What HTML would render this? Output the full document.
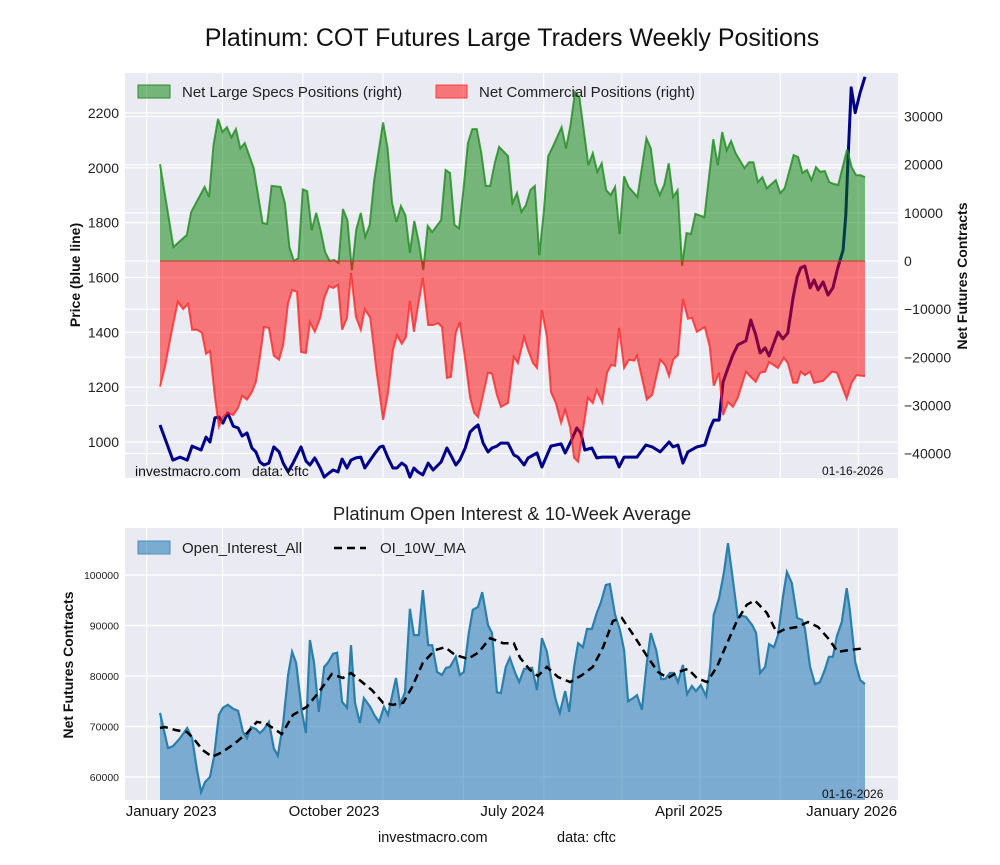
<!DOCTYPE html>
<html><head><meta charset="utf-8"><style>
body{margin:0;background:#fff;font-family:"Liberation Sans",Arial,sans-serif}
svg text{font-family:"Liberation Sans",Arial,sans-serif}
</style></head><body>
<svg id="c" width="1000" height="860" xmlns="http://www.w3.org/2000/svg"></svg>
<script>
const specWeeks=[0,3,6,7,10,11,12,13,14,15,16,17,18,19,21,23,24,25,27,28,29,30,31,32,33,34,35,36,37,38,39,40,41,42,43,44,45,46,47,48,50,51,52,53,54,55,56,57,58,59,60,61,63,64,65,66,67,68,69,70,71,72,73,74,75,76,78,79,80,81,82,83,84,85,86,87,88,90,91,92,93,94,96,97,98,99,100,101,102,103,104,105,107,109,110,111,112,113,114,115,116,117,118,119,120,122,124,125,126,127,128,129,131,132,133,134,135,136,138,139,140,142,143,144,145,146,147,148,149,150,151,152,154,155,156,157,158];
const specVals=[20100,2900,5400,10200,15400,13300,24100,29500,26800,27800,25700,27400,23400,24500,19300,7900,7700,15600,15400,12000,2900,0,600,14900,14500,6400,10000,6400,1900,0,200,-400,10800,8500,-1900,6600,10000,5000,7500,16800,28800,23400,12200,8100,11400,9500,1700,8300,3900,-1900,7300,6000,8500,18900,18300,7500,6800,14700,24500,27400,27400,22400,15600,15600,20300,23700,21800,12000,14100,10200,11600,14700,15600,1200,10000,21800,23700,27800,23400,28200,35100,34000,19900,22400,18500,20300,14700,13700,15400,5600,17600,15400,13300,25500,23400,16200,13700,15800,20300,13300,14700,-1000,5800,5600,9800,9100,25300,19900,26800,23000,24900,22400,19300,20500,20500,16400,17400,15100,16800,14100,15100,22000,21600,18300,18900,16800,19500,18500,18700,16400,16000,15800,23200,19500,17800,17800,17400];
const commWeeks=[0,1.1,2.7,4.0,5.2,6.3,7.2,8.3,9.4,10.3,11.2,12.3,13.2,14.1,15.2,16.4,17.5,18.4,19.5,20.6,21.5,22.4,23.3,24.4,25.5,26.7,27.6,28.7,29.6,30.7,31.6,32.7,33.6,34.7,35.9,36.8,37.9,38.8,39.9,40.8,41.9,42.8,43.9,45.0,45.9,47.1,48.4,50.0,51.1,52.2,53.1,54.2,55.1,56.0,56.9,57.8,58.9,60.1,61.2,62.3,63.2,64.3,65.2,66.3,67.2,68.4,69.5,70.4,71.3,72.4,73.5,74.4,75.5,76.4,78.0,79.3,80.2,81.6,82.5,83.6,84.5,85.6,86.7,87.6,88.7,89.9,90.8,91.9,92.8,93.7,94.8,95.9,97.0,97.9,99.1,100.2,101.1,102.0,102.9,104.0,105.1,106.3,106.9,109.1,110.3,112.1,113.2,114.1,115.0,116.1,117.2,118.3,119.2,120.3,122.1,123.2,124.1,125.3,126.2,127.3,128.4,129.5,131.3,132.4,133.5,134.5,135.6,136.5,138.5,139.8,140.7,141.9,142.8,143.6,144.5,145.7,146.6,148.6,150.6,151.7,153.9,155.0,156.1,158];
const commVals=[-26100,-22000,-14300,-8500,-10000,-8900,-14300,-14300,-14900,-19300,-18700,-28200,-34400,-32400,-31500,-32000,-30500,-28000,-28800,-27200,-25100,-19900,-13700,-13900,-19700,-20500,-17400,-8700,-6000,-6400,-18900,-19100,-12700,-14700,-11800,-7700,-5200,-5600,-5000,-14300,-11800,-2500,-11600,-14300,-10000,-11800,-22000,-33000,-27400,-18500,-15400,-17200,-15800,-8300,-14700,-9500,-3500,-13300,-13300,-12900,-13700,-24300,-24100,-14900,-12700,-20500,-28400,-31500,-32400,-27800,-23200,-23400,-27800,-30300,-29500,-19900,-21200,-15800,-18500,-21200,-22200,-10200,-15800,-27200,-29500,-33600,-30900,-34600,-40900,-41700,-35100,-28400,-29500,-26800,-29300,-23200,-21600,-21800,-13900,-22200,-20500,-20700,-19700,-28800,-27800,-20500,-21600,-23900,-20500,-19500,-7900,-12000,-11800,-14700,-13700,-17800,-25900,-23200,-32000,-29300,-30300,-28400,-23000,-24100,-25100,-23200,-23000,-21000,-22200,-20100,-21200,-25300,-25300,-23000,-23700,-23000,-25300,-24900,-23000,-23200,-28600,-25300,-23700,-23900];
const priceWeeks=[0,2.9,4.5,6.1,7.2,9.2,10.3,11.2,12.3,13.2,14.1,15.2,16.4,17.5,18.4,19.5,20.6,21.5,22.4,23.3,24.4,25.5,26.7,27.6,28.7,29.8,31.6,32.7,33.6,34.7,35.9,36.8,37.9,38.8,39.9,40.8,41.9,42.8,43.9,45.0,45.9,47.1,48.4,49.3,50.0,51.1,52.2,53.1,54.2,55.1,56.0,56.9,57.8,58.9,60.1,61.2,63.0,64.3,65.4,66.3,67.2,68.4,69.5,70.4,71.3,72.4,73.5,74.4,75.5,76.4,78.0,79.3,80.2,81.6,82.5,84.5,85.6,87.6,89.9,90.8,91.9,93.4,94.3,95.2,96.8,97.9,99.1,100.2,102.0,102.9,104.0,106.9,108.9,110.3,112.1,114.1,115.0,116.1,117.2,118.3,120.3,122.1,123.3,124.1,125.3,126.2,127.3,128.4,129.5,131.3,132.4,133.5,134.5,135.6,136.5,138.5,139.6,140.7,141.9,142.8,143.6,144.5,145.7,146.6,147.5,148.6,149.7,150.8,151.9,153.1,153.7,154.2,154.9,155.8,156.9,158];
const priceVals=[1062,934,945,934,985,971,1018,1000,1088,1091,1069,1106,1058,1051,1022,1033,978,964,927,916,923,982,964,923,891,923,982,931,916,942,905,872,887,898,891,938,905,934,942,945,905,934,964,982,985,942,905,905,923,912,872,905,891,880,923,898,927,978,945,916,934,978,1036,1051,1062,996,964,978,985,996,996,953,945,916,942,960,909,985,993,960,996,1051,1033,971,978,942,945,945,945,909,945,945,989,982,964,1000,982,989,923,964,982,989,1051,1080,1080,1219,1270,1318,1354,1369,1445,1391,1325,1343,1314,1401,1376,1398,1529,1602,1635,1642,1562,1591,1555,1584,1536,1562,1635,1700,1828,2029,2292,2201,2274,2332];
const oiWeeks=[0,1.8,2.9,4.5,6.1,7.2,8.3,9.2,10.1,11.2,12.1,13.2,14.1,15.2,16.4,17.5,18.6,19.5,20.4,21.5,22.4,23.3,24.4,25.5,26.4,27.6,28.7,29.6,30.5,31.8,32.7,33.6,34.5,35.6,36.8,37.6,38.8,39.7,40.8,41.9,42.8,43.7,44.8,45.7,47.1,48.0,49.1,50.2,51.1,52.9,53.8,54.9,56.0,56.9,58.0,58.9,60.1,61.0,62.1,63.2,64.1,65.0,66.3,67.2,68.1,69.2,70.1,71.3,72.2,73.5,74.4,75.5,76.4,77.5,78.4,79.6,80.5,81.6,83.4,84.5,85.6,86.7,87.6,88.7,89.6,90.8,91.7,92.8,93.7,94.8,95.7,96.8,97.9,98.8,99.9,100.8,102.0,103.1,104.0,104.9,106.0,106.9,108.0,109.1,110.0,111.2,112.3,113.2,114.3,115.2,116.1,117.2,118.1,119.2,120.1,121.2,122.4,123.3,124.1,125.3,126.4,127.3,128.4,129.5,130.4,131.3,132.7,133.6,134.5,135.6,136.5,137.6,138.5,139.6,140.5,141.6,142.8,143.9,144.5,145.7,146.8,147.9,149.0,149.9,150.8,151.7,152.8,153.9,154.6,155.8,156.9,158];
const oiVals=[72700,65700,66100,67700,69700,67700,61400,57000,59000,60000,64000,72300,73700,74300,73500,73100,68900,67700,69900,69500,68700,69500,70900,65700,64200,70700,80200,84800,82600,72900,68700,87100,82800,72900,81800,82600,84400,84600,74900,73700,86100,74700,70700,75600,73900,72300,70900,73900,72300,79600,74300,76800,93300,88100,88100,97000,86100,86100,80800,80200,81600,81800,83800,80200,80800,88500,93100,93700,96600,90100,88500,76800,76600,81800,83600,80600,78800,81400,81600,77200,87500,84800,79800,75200,72700,77000,72900,81800,86500,85700,89300,89300,92500,94500,98000,98200,92100,89100,85100,75000,75600,76200,73300,82600,88500,85100,79400,79400,80600,80600,78800,82200,76400,78000,77000,78200,76000,81800,92100,95400,100600,106300,99000,91500,91900,91700,90100,88500,80600,81800,86300,85700,88100,95600,100600,98400,91500,91100,89500,81800,78400,78800,81200,83800,83800,87900,90700,97400,93100,82800,79200,78400];
const maWeeks=[0,1.1,3.4,6.1,7.8,9.6,11.7,13.9,16.8,19.5,21.7,23.5,25.3,27.3,29.8,32.9,35.4,38.5,41.0,42.8,45.3,47.5,50.0,52.2,54.5,56.5,58.9,61.6,63.9,66.1,69.0,71.3,74.0,76.9,79.3,80.7,82.9,84.7,86.7,89.2,91.9,94.6,97.0,99.3,101.5,103.5,106.4,109.1,111.6,113.8,116.1,118.3,120.3,122.6,124.8,127.1,129.3,131.5,133.3,136.0,138.3,140.1,142.8,145.2,147.5,149.7,151.9,154.2,158];
const maVals=[69700,69900,69300,68900,67300,65300,64000,64900,66700,68700,70900,70700,69700,68500,72300,73900,76600,80400,79600,80600,78800,77200,74700,74300,74700,77800,82600,85100,85700,84200,83400,84600,87500,86500,86500,83600,81200,80000,81800,79800,78800,80200,81800,85700,90900,91500,87700,84000,80800,79600,80800,81400,79600,78800,81800,86500,90900,94100,95000,92500,88500,89300,89700,90700,89700,87500,84800,85100,85500];
const priceTicks=[1000,1200,1400,1600,1800,2000,2200];
const netTicks=[-40000,-30000,-20000,-10000,0,10000,20000,30000];
const oiTicks=[60000,70000,80000,90000,100000];
const xLabels=["January 2023","October 2023","July 2024","April 2025","January 2026"];
const xLabelWeeks=[2.5,39,79,118.5,155];
const xGridWeeks=[-3,14,32,50,68,86,103.5,121,139,156.5];

const NS="http://www.w3.org/2000/svg";
const svg=document.getElementById('c');
function el(tag,attrs,parent){const e=document.createElementNS(NS,tag);for(const k in attrs)e.setAttribute(k,attrs[k]);(parent||svg).appendChild(e);return e;}
function txt(s,attrs,parent){const e=el('text',attrs,parent);e.textContent=s;return e;}
const xS=w=>160+w*(705/158);
const pY=p=>442-(p-1000)*0.2742;
const nY=v=>261-v*0.004814;
const oY=v=>575+(100000-v)*0.00505;
function pts(ws,vs,f){return ws.map((w,i)=>xS(w).toFixed(1)+','+f(vs[i]).toFixed(1)).join(' ');}

let t=txt('Platinum: COT Futures Large Traders Weekly Positions',{x:512,y:46,'font-size':25,'text-anchor':'middle',fill:'#111'});



const topG=el('g',{});


el('rect',{x:125,y:73,width:773,height:405,fill:'#eaeaf2'},topG);
xGridWeeks.forEach(w=>el('line',{x1:xS(w),x2:xS(w),y1:73,y2:478,stroke:'#fff','stroke-width':1.2},topG));
priceTicks.forEach(p=>{el('line',{x1:125,x2:898,y1:pY(p),y2:pY(p),stroke:'#fff','stroke-width':1.2},topG);
 const l=txt(String(p),{x:119,y:pY(p)+5,'font-size':14,'text-anchor':'end',fill:'#222'});
 
 });
netTicks.forEach(v=>{el('line',{x1:125,x2:898,y1:nY(v),y2:nY(v),stroke:'#fff','stroke-width':1.2},topG);
 const l=txt(v<0?'\u2212'+(-v):String(v),{x:904,y:nY(v)+5,'font-size':14,fill:'#222'});
 
 });
const pl=el('polyline',{points:pts(priceWeeks,priceVals,pY),fill:'none',stroke:'#00008b','stroke-width':3,'stroke-linejoin':'round'},topG);


const z=nY(0);
let sp=xS(specWeeks[0])+','+z+' '+pts(specWeeks,specVals,nY)+' '+xS(specWeeks[specWeeks.length-1])+','+z;
const sf=el('polygon',{points:sp,fill:'#008000','fill-opacity':0.5},topG);


el('polyline',{points:pts(specWeeks,specVals,nY),fill:'none',stroke:'#1f8a1f','stroke-opacity':0.8,'stroke-width':2},topG);
let cp=xS(commWeeks[0])+','+z+' '+pts(commWeeks,commVals,nY)+' '+xS(commWeeks[commWeeks.length-1])+','+z;
const cf=el('polygon',{points:cp,fill:'#ff0000','fill-opacity':0.5},topG);


el('polyline',{points:pts(commWeeks,commVals,nY),fill:'none',stroke:'#ff2020','stroke-opacity':0.75,'stroke-width':2},topG);
el('line',{x1:160,x2:865,y1:z,y2:z,stroke:'#c0392b','stroke-width':1},topG);
el('rect',{x:138,y:85,width:32,height:13,fill:'#008000','fill-opacity':0.5,stroke:'#2e8b2e'},topG);
let lg=txt('Net Large Specs Positions (right)',{x:182,y:97,'font-size':15,fill:'#222'},topG);


el('rect',{x:436,y:85,width:31,height:13,fill:'#ff0000','fill-opacity':0.5,stroke:'#ff4040'},topG);
lg=txt('Net Commercial Positions (right)',{x:479,y:97,'font-size':15,fill:'#222'},topG);


let wm=txt('investmacro.com',{x:135,y:476,'font-size':14,fill:'#111'},topG);


wm=txt('data: cftc',{x:252,y:476,'font-size':14,fill:'#111'},topG);


wm=txt('01-16-2026',{x:822,y:475,'font-size':12,fill:'#111'},topG);


let a=txt('Price (blue line)',{x:0,y:0,'font-size':14,'font-weight':'bold','text-anchor':'middle',transform:'translate(80,275) rotate(-90)',fill:'#111'});


a=txt('Net Futures Contracts',{x:0,y:0,'font-size':14,'font-weight':'bold','text-anchor':'middle',transform:'translate(967,276) rotate(-90)',fill:'#111'});



t=txt('Platinum Open Interest & 10-Week Average',{x:512,y:520,'font-size':18.5,'text-anchor':'middle',fill:'#222'});


const bot=el('g',{});


el('rect',{x:125,y:528,width:773,height:272,fill:'#eaeaf2'},bot);
xGridWeeks.forEach(w=>el('line',{x1:xS(w),x2:xS(w),y1:528,y2:800,stroke:'#fff','stroke-width':1.2},bot));
oiTicks.forEach(v=>{el('line',{x1:125,x2:898,y1:oY(v),y2:oY(v),stroke:'#fff','stroke-width':1.2},bot);
 const l=txt(String(v),{x:119,y:oY(v)+4,'font-size':10.5,'text-anchor':'end',fill:'#222'});
 
 });
const op=xS(0)+',800 '+pts(oiWeeks,oiVals,oY)+' '+xS(158)+',800';
const of=el('polygon',{points:op,fill:'#1f77b4','fill-opacity':0.55},bot);


el('polyline',{points:pts(oiWeeks,oiVals,oY),fill:'none',stroke:'#2a7fab','stroke-width':2.2},bot);
const ma=el('polyline',{points:pts(maWeeks,maVals,oY),fill:'none',stroke:'#000','stroke-width':2.5,'stroke-dasharray':'8,5'},bot);


el('rect',{x:138,y:541,width:32,height:13,fill:'#1f77b4','fill-opacity':0.55,stroke:'#4a8fb8'},bot);
lg=txt('Open_Interest_All',{x:182,y:553,'font-size':15,fill:'#222'},bot);


el('line',{x1:334,x2:366,y1:548,y2:548,stroke:'#000','stroke-width':2.5,'stroke-dasharray':'8,5'},bot);
lg=txt('OI_10W_MA',{x:380,y:553,'font-size':15,fill:'#222'},bot);


wm=txt('01-16-2026',{x:822,y:798,'font-size':12,fill:'#111'},bot);


a=txt('Net Futures Contracts',{x:0,y:0,'font-size':14,'font-weight':'bold','text-anchor':'middle',transform:'translate(73,665) rotate(-90)',fill:'#111'});


xLabels.forEach((s,i)=>{const l=txt(s,{x:xS(xLabelWeeks[i]),y:816,'font-size':15,'text-anchor':'middle',fill:'#111'});
 
 });
wm=txt('investmacro.com',{x:378,y:842,'font-size':14.5,fill:'#111'});


wm=txt('data: cftc',{x:557,y:842,'font-size':14.5,fill:'#111'});


</script>
</body></html>
